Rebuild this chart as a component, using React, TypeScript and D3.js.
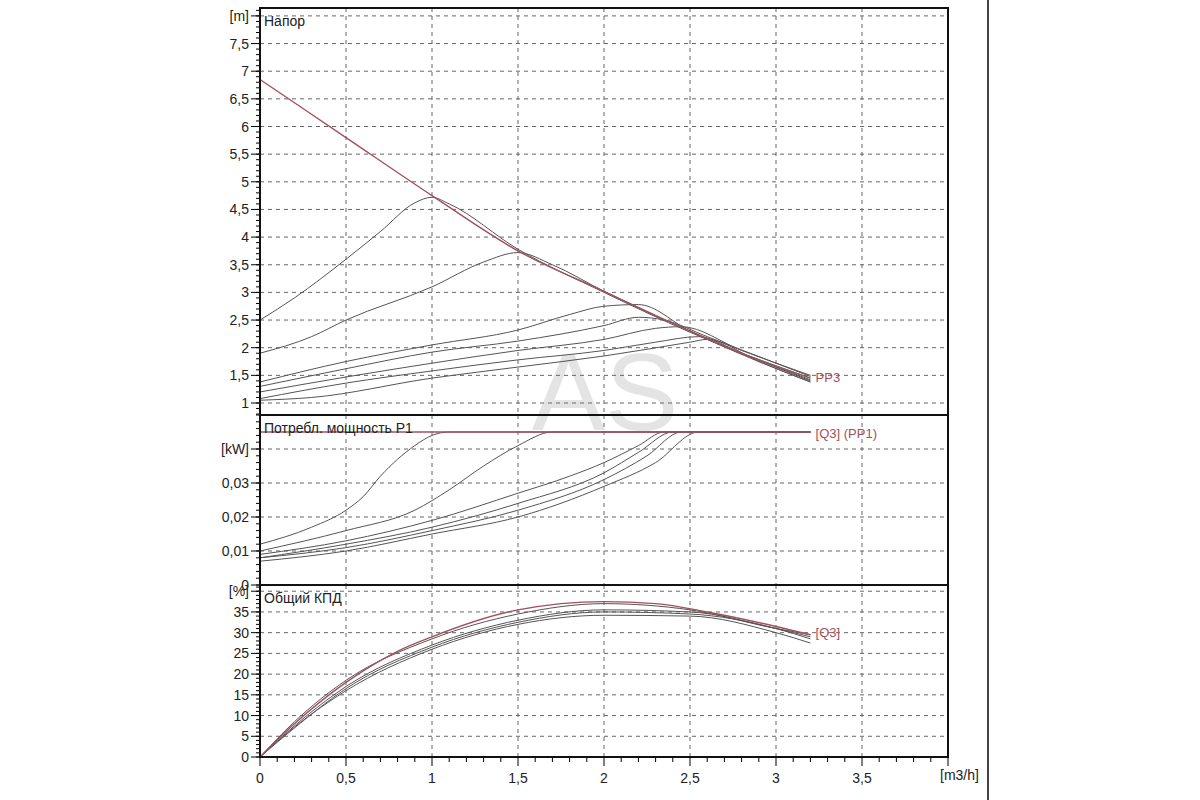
import * as d3 from 'd3';

type Pt = [number, number];

const xTicks = [0, 0.5, 1, 1.5, 2, 2.5, 3, 3.5];
const xTickLabels = ['0', '0,5', '1', '1,5', '2', '2,5', '3', '3,5'];

const headTicks = [1, 1.5, 2, 2.5, 3, 3.5, 4, 4.5, 5, 5.5, 6, 6.5, 7, 7.5];
const powerTicks = [0, 0.01, 0.02, 0.03];
const effTicks = [0, 5, 10, 15, 20, 25, 30, 35];

const headMax: Pt[] = [[0, 6.85], [0.5, 5.8], [1, 4.75], [1.5, 3.75], [2, 3.02], [2.5, 2.3], [2.8, 1.9], [3.2, 1.45]];
const headCurves: Pt[][] = [
  [[0, 2.5], [0.2, 2.9], [0.5, 3.6], [0.7, 4.1], [0.9, 4.62], [1, 4.72], [1.1, 4.6], [1.5, 3.78], [2, 3.0], [2.5, 2.28], [3.2, 1.42]],
  [[0, 1.9], [0.3, 2.2], [0.5, 2.5], [1, 3.1], [1.3, 3.55], [1.5, 3.72], [1.7, 3.5], [2, 3.02], [2.5, 2.3], [3.2, 1.4]],
  [[0, 1.38], [0.5, 1.75], [1, 2.05], [1.5, 2.32], [1.8, 2.6], [2, 2.75], [2.2, 2.78], [2.5, 2.3], [3.2, 1.38]],
  [[0, 1.3], [0.5, 1.62], [1, 1.92], [1.5, 2.12], [2, 2.4], [2.2, 2.55], [2.35, 2.5], [2.6, 2.2], [3.2, 1.48]],
  [[0, 1.2], [0.5, 1.47], [1, 1.72], [1.5, 1.95], [2, 2.15], [2.3, 2.35], [2.45, 2.38], [2.8, 1.95], [3.2, 1.5]],
  [[0, 1.08], [0.5, 1.36], [1, 1.58], [1.5, 1.78], [2, 1.95], [2.3, 2.1], [2.55, 2.2], [2.8, 1.9], [3.2, 1.45]],
  [[0, 1.05], [0.3, 1.1], [1, 1.45], [1.5, 1.65], [2, 1.85], [2.5, 2.1], [2.6, 2.15], [2.9, 1.75], [3.2, 1.38]],
];

const powerMax: Pt[] = [[0, 0.045], [3.2, 0.045]];
const powerCurves: Pt[][] = [
  [[0, 0.012], [0.3, 0.017], [0.5, 0.022], [0.6, 0.026], [0.7, 0.032], [0.8, 0.037], [0.9, 0.041], [1, 0.044], [1.1, 0.045], [3.2, 0.045]],
  [[0, 0.01], [0.5, 0.016], [0.9, 0.022], [1.1, 0.028], [1.3, 0.035], [1.5, 0.041], [1.7, 0.045], [3.2, 0.045]],
  [[0, 0.009], [0.5, 0.013], [1, 0.019], [1.5, 0.027], [1.8, 0.032], [2, 0.036], [2.2, 0.041], [2.35, 0.045], [3.2, 0.045]],
  [[0, 0.008], [0.5, 0.012], [1, 0.017], [1.5, 0.024], [2, 0.033], [2.2, 0.039], [2.4, 0.045], [3.2, 0.045]],
  [[0, 0.008], [0.5, 0.011], [1, 0.016], [1.5, 0.022], [2, 0.031], [2.25, 0.038], [2.45, 0.045], [3.2, 0.045]],
  [[0, 0.007], [0.5, 0.01], [1, 0.015], [1.5, 0.02], [2, 0.029], [2.3, 0.036], [2.55, 0.045], [3.2, 0.045]],
];

const effMax: Pt[] = [[0, 0], [0.2, 8], [0.5, 18], [0.8, 25.5], [1, 29], [1.5, 35.5], [2, 37.5], [2.3, 37], [2.6, 35], [3, 31.5], [3.2, 29.5]];
const effCurves: Pt[][] = [
  [[0, 0], [0.2, 8.5], [0.5, 18.5], [1, 28.5], [1.5, 34.5], [2, 37], [2.5, 35.5], [3, 31], [3.2, 29.5]],
  [[0, 0], [0.2, 7.5], [0.5, 17], [1, 27], [1.5, 33], [2, 35.5], [2.5, 35], [3, 31], [3.2, 29]],
  [[0, 0], [0.2, 7], [0.5, 16.5], [1, 26.5], [1.5, 32.5], [2, 35], [2.5, 34.5], [3, 31], [3.2, 28.5]],
  [[0, 0], [0.2, 7.2], [0.5, 16], [1, 26], [1.5, 32], [2, 34.2], [2.5, 34], [3, 30], [3.2, 27.5]],
];

const W = 1200, H = 800;
const x0 = 260, x1 = 948;
const x = d3.scaleLinear().domain([0, 4]).range([x0, x1]);

const panels = [
  { top: 8, bottom: 415, domain: [(403 - 415) / 55.3 + 1, (403 - 8) / 55.3 + 1], ticks: headTicks, fmt: (v: number) => String(v).replace('.', ','), unit: '[m]', unitVal: 8, minor: 0.1, title: 'Напор', max: headMax, curves: headCurves },
  { top: 415, bottom: 585, domain: [0, 0.05], ticks: powerTicks, fmt: (v: number) => (v === 0 ? '0' : v.toFixed(2).replace('.', ',')), unit: '[kW]', unitVal: 0.04, minor: 0.002, title: 'Потребл. мощность P1', max: powerMax, curves: powerCurves },
  { top: 585, bottom: 757, domain: [0, 41.5], ticks: effTicks, fmt: (v: number) => String(v), unit: '[%]', unitVal: 40, minor: 1, title: 'Общий КПД', max: effMax, curves: effCurves },
];

const RED = '#a3505e';
const GREY = '#555';
const font = 'Arial, "Liberation Sans", sans-serif';

export default function App() {
  const line = (y: d3.ScaleLinear<number, number>) =>
    d3.line<Pt>().x((d) => x(d[0])).y((d) => y(d[1])).curve(d3.curveMonotoneX);
  const minorX = d3.range(0, 4.0001, 0.1);
  return (
    <svg width={W} height={H} style={{ position: 'absolute', left: 0, top: 0, background: '#fff' }} fontFamily={font}>
      <text x={605} y={430} fontSize={110} fill="#e4e4e4" textAnchor="middle">AS</text>
      {panels.map((p, i) => {
        const y = d3.scaleLinear().domain(p.domain).range([p.bottom, p.top]);
        const l = line(y);
        const minorY = d3.range(Math.ceil(p.domain[0] / p.minor), Math.floor(p.domain[1] / p.minor) + 1).map((k) => k * p.minor);
        return (
          <g key={i}>
            {xTicks.slice(1).map((t) => (
              <line key={t} x1={x(t)} x2={x(t)} y1={p.top} y2={p.bottom} stroke="#666" strokeDasharray="4,4" />
            ))}
            {[...p.ticks, p.unitVal].filter((t) => t > p.domain[0] + 1e-9).map((t) => (
              <line key={t} x1={x0} x2={x1} y1={y(t)} y2={y(t)} stroke="#666" strokeDasharray="4,4" />
            ))}
            {p.curves.map((c, j) => (
              <path key={j} d={l(c) ?? ''} fill="none" stroke={GREY} strokeWidth={1} />
            ))}
            <path d={l(p.max) ?? ''} fill="none" stroke={RED} strokeWidth={1.4} />
            {minorY.map((t) => (
              <line key={t} x1={x0 - 4} x2={x0} y1={y(t)} y2={y(t)} stroke="#000" />
            ))}
            {[...p.ticks, p.unitVal].map((t) => (
              <line key={'m' + t} x1={x0 - 9} x2={x0} y1={y(t)} y2={y(t)} stroke="#000" />
            ))}
            {p.ticks.map((t) => (
              <text key={t} x={x0 - 11} y={y(t) + 5} fontSize={14} textAnchor="end" fill="#222">{p.fmt(t)}</text>
            ))}
            <text x={x0 - 11} y={y(p.unitVal) + 5} fontSize={14} textAnchor="end" fill="#222">{p.unit}</text>
            <text x={x0 + 4} y={p.top + 18} fontSize={14} fill="#222">{p.title}</text>
            <rect x={x0} y={p.top} width={x1 - x0} height={p.bottom - p.top} fill="none" stroke="#111" strokeWidth={2} />
          </g>
        );
      })}
      <text x={x(3.23)} y={382} fontSize={13} fill={RED}>PP3</text>
      <text x={x(3.23)} y={438} fontSize={13} fill={RED}>[Q3] (PP1)</text>
      <text x={x(3.23)} y={637} fontSize={13} fill={RED}>[Q3]</text>
      {minorX.map((t, i) => (
        <line key={i} x1={x(t)} x2={x(t)} y1={757} y2={i % 5 === 0 ? 766 : 762} stroke="#000" />
      ))}
      {xTicks.map((t, i) => (
        <text key={t} x={x(t)} y={783} fontSize={14} textAnchor="middle" fill="#222">{xTickLabels[i]}</text>
      ))}
      <text x={x1 - 8} y={780} fontSize={14} fill="#222">[m3/h]</text>
      <line x1={988} x2={988} y1={0} y2={800} stroke="#444" strokeWidth={2} />
    </svg>
  );
}
